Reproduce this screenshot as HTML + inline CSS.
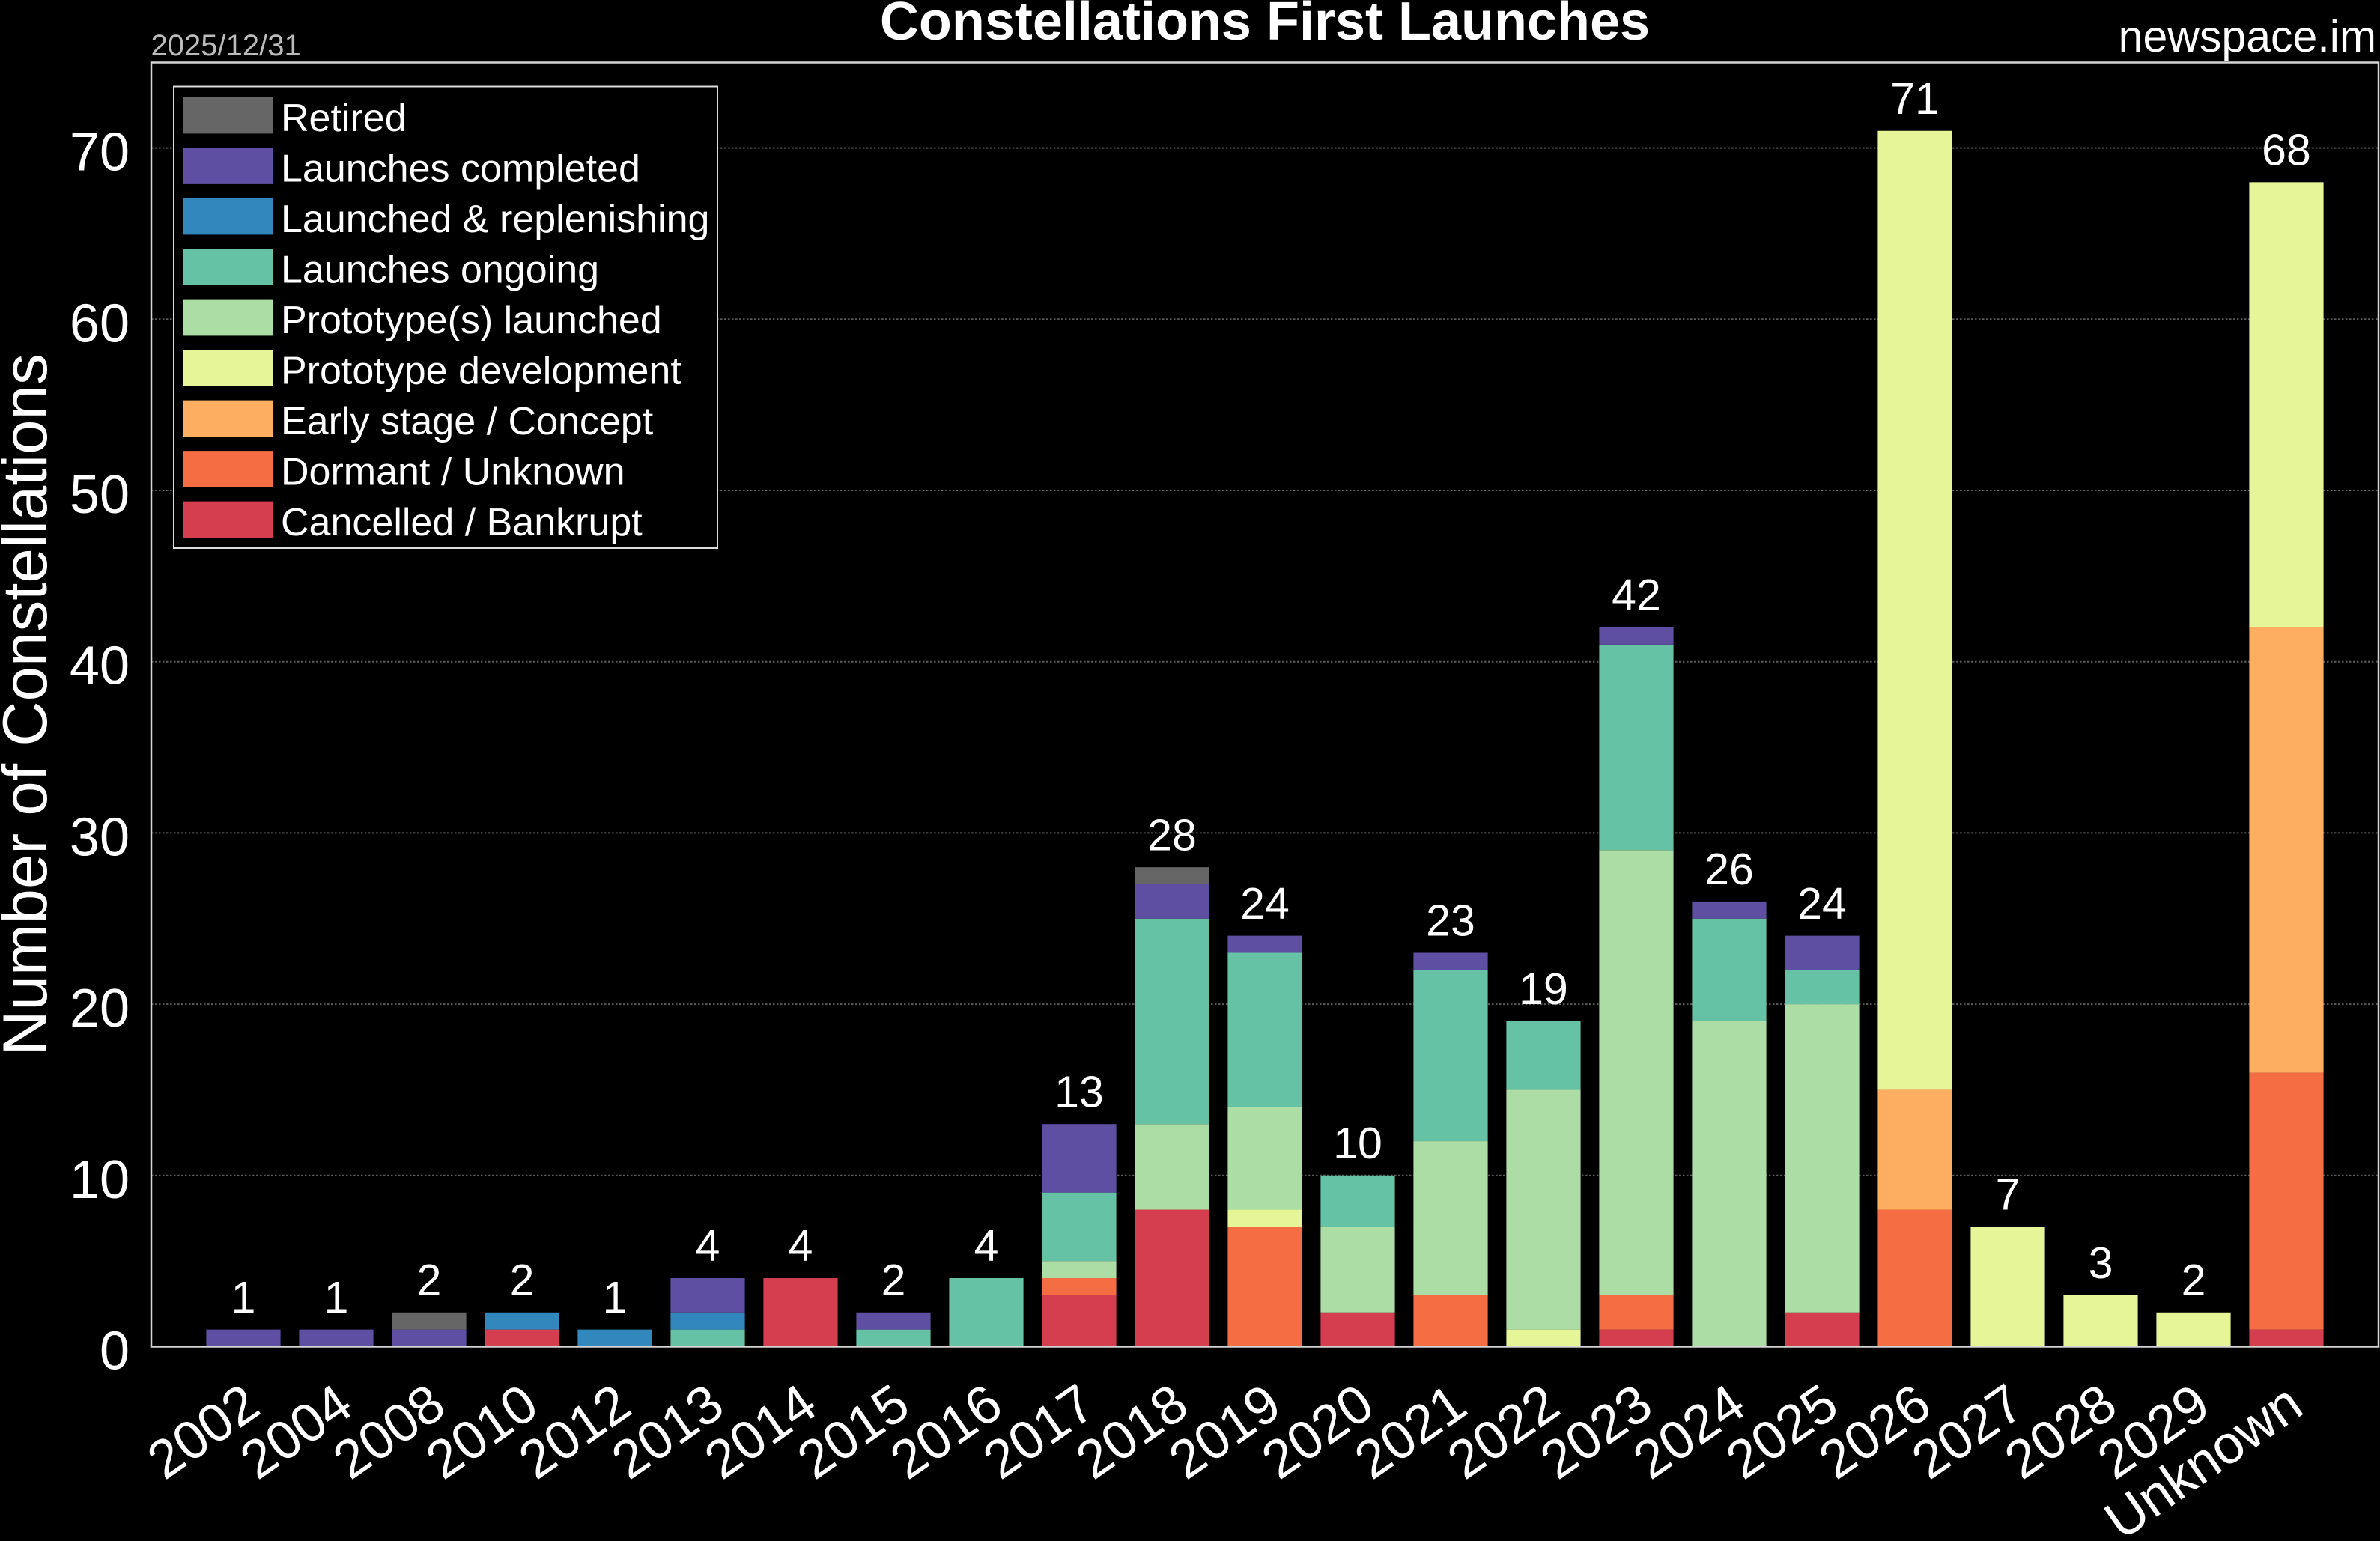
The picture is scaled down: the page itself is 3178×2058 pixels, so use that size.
<!DOCTYPE html>
<html>
<head>
<meta charset="utf-8">
<style>
  html, body { margin: 0; padding: 0; background: #000; }
  svg { display: block; }
  text { font-family: "Liberation Sans", Arial, sans-serif; fill: #fff; }
</style>
</head>
<body>
<svg width="3178" height="2058" viewBox="0 0 3178 2058" xmlns="http://www.w3.org/2000/svg">
  <rect x="0" y="0" width="3178" height="2058" fill="#000"/>

  <!-- header texts -->
  <text x="201.5" y="74" font-size="40" style="fill:#bbbbbb">2025/12/31</text>
  <text x="1689" y="53" font-size="72" font-weight="bold" text-anchor="middle">Constellations First Launches</text>
  <text x="3173" y="69" font-size="59" text-anchor="end">newspace.im</text>

  <!-- gridlines -->
  <g stroke="#5a5a5a" stroke-width="2" stroke-dasharray="2.5 2.5">
    <line x1="202" x2="3176" y1="1569.8" y2="1569.8"/>
    <line x1="202" x2="3176" y1="1341.1" y2="1341.1"/>
    <line x1="202" x2="3176" y1="1112.4" y2="1112.4"/>
    <line x1="202" x2="3176" y1="883.7" y2="883.7"/>
    <line x1="202" x2="3176" y1="655" y2="655"/>
    <line x1="202" x2="3176" y1="426.3" y2="426.3"/>
    <line x1="202" x2="3176" y1="197.6" y2="197.6"/>
  </g>

  <!-- bars (data coordinates) -->
  <g transform="translate(325,1798.5) scale(124,-22.87)">
    <rect x="-0.4" width="0.8" y="0" height="1" fill="#5e4fa2"/>
    <rect x="0.6" width="0.8" y="0" height="1" fill="#5e4fa2"/>
    <rect x="1.6" width="0.8" y="0" height="1" fill="#5e4fa2"/>
    <rect x="1.6" width="0.8" y="1" height="1" fill="#666666"/>
    <rect x="2.6" width="0.8" y="0" height="1" fill="#d53e4f"/>
    <rect x="2.6" width="0.8" y="1" height="1" fill="#3288bd"/>
    <rect x="3.6" width="0.8" y="0" height="1" fill="#3288bd"/>
    <rect x="4.6" width="0.8" y="0" height="1" fill="#66c2a5"/>
    <rect x="4.6" width="0.8" y="1" height="1" fill="#3288bd"/>
    <rect x="4.6" width="0.8" y="2" height="2" fill="#5e4fa2"/>
    <rect x="5.6" width="0.8" y="0" height="4" fill="#d53e4f"/>
    <rect x="6.6" width="0.8" y="0" height="1" fill="#66c2a5"/>
    <rect x="6.6" width="0.8" y="1" height="1" fill="#5e4fa2"/>
    <rect x="7.6" width="0.8" y="0" height="4" fill="#66c2a5"/>
    <rect x="8.6" width="0.8" y="0" height="3" fill="#d53e4f"/>
    <rect x="8.6" width="0.8" y="3" height="1" fill="#f46d43"/>
    <rect x="8.6" width="0.8" y="4" height="1" fill="#abdda4"/>
    <rect x="8.6" width="0.8" y="5" height="4" fill="#66c2a5"/>
    <rect x="8.6" width="0.8" y="9" height="4" fill="#5e4fa2"/>
    <rect x="9.6" width="0.8" y="0" height="8" fill="#d53e4f"/>
    <rect x="9.6" width="0.8" y="8" height="5" fill="#abdda4"/>
    <rect x="9.6" width="0.8" y="13" height="12" fill="#66c2a5"/>
    <rect x="9.6" width="0.8" y="25" height="2" fill="#5e4fa2"/>
    <rect x="9.6" width="0.8" y="27" height="1" fill="#666666"/>
    <rect x="10.6" width="0.8" y="0" height="7" fill="#f46d43"/>
    <rect x="10.6" width="0.8" y="7" height="1" fill="#e6f598"/>
    <rect x="10.6" width="0.8" y="8" height="6" fill="#abdda4"/>
    <rect x="10.6" width="0.8" y="14" height="9" fill="#66c2a5"/>
    <rect x="10.6" width="0.8" y="23" height="1" fill="#5e4fa2"/>
    <rect x="11.6" width="0.8" y="0" height="2" fill="#d53e4f"/>
    <rect x="11.6" width="0.8" y="2" height="5" fill="#abdda4"/>
    <rect x="11.6" width="0.8" y="7" height="3" fill="#66c2a5"/>
    <rect x="12.6" width="0.8" y="0" height="3" fill="#f46d43"/>
    <rect x="12.6" width="0.8" y="3" height="9" fill="#abdda4"/>
    <rect x="12.6" width="0.8" y="12" height="10" fill="#66c2a5"/>
    <rect x="12.6" width="0.8" y="22" height="1" fill="#5e4fa2"/>
    <rect x="13.6" width="0.8" y="0" height="1" fill="#e6f598"/>
    <rect x="13.6" width="0.8" y="1" height="14" fill="#abdda4"/>
    <rect x="13.6" width="0.8" y="15" height="4" fill="#66c2a5"/>
    <rect x="14.6" width="0.8" y="0" height="1" fill="#d53e4f"/>
    <rect x="14.6" width="0.8" y="1" height="2" fill="#f46d43"/>
    <rect x="14.6" width="0.8" y="3" height="26" fill="#abdda4"/>
    <rect x="14.6" width="0.8" y="29" height="12" fill="#66c2a5"/>
    <rect x="14.6" width="0.8" y="41" height="1" fill="#5e4fa2"/>
    <rect x="15.6" width="0.8" y="0" height="19" fill="#abdda4"/>
    <rect x="15.6" width="0.8" y="19" height="6" fill="#66c2a5"/>
    <rect x="15.6" width="0.8" y="25" height="1" fill="#5e4fa2"/>
    <rect x="16.6" width="0.8" y="0" height="2" fill="#d53e4f"/>
    <rect x="16.6" width="0.8" y="2" height="18" fill="#abdda4"/>
    <rect x="16.6" width="0.8" y="20" height="2" fill="#66c2a5"/>
    <rect x="16.6" width="0.8" y="22" height="2" fill="#5e4fa2"/>
    <rect x="17.6" width="0.8" y="0" height="8" fill="#f46d43"/>
    <rect x="17.6" width="0.8" y="8" height="7" fill="#fdae61"/>
    <rect x="17.6" width="0.8" y="15" height="56" fill="#e6f598"/>
    <rect x="18.6" width="0.8" y="0" height="7" fill="#e6f598"/>
    <rect x="19.6" width="0.8" y="0" height="3" fill="#e6f598"/>
    <rect x="20.6" width="0.8" y="0" height="2" fill="#e6f598"/>
    <rect x="21.6" width="0.8" y="0" height="1" fill="#d53e4f"/>
    <rect x="21.6" width="0.8" y="1" height="15" fill="#f46d43"/>
    <rect x="21.6" width="0.8" y="16" height="26" fill="#fdae61"/>
    <rect x="21.6" width="0.8" y="42" height="26" fill="#e6f598"/>
  </g>

  <!-- value labels -->
  <g font-size="59" text-anchor="middle">
    <text x="325" y="1752.8">1</text>
    <text x="449" y="1752.8">1</text>
    <text x="573" y="1730">2</text>
    <text x="697" y="1730">2</text>
    <text x="821" y="1752.8">1</text>
    <text x="945" y="1684.2">4</text>
    <text x="1069" y="1684.2">4</text>
    <text x="1193" y="1730">2</text>
    <text x="1317" y="1684.2">4</text>
    <text x="1441" y="1478.4">13</text>
    <text x="1565" y="1135.3">28</text>
    <text x="1689" y="1226.8">24</text>
    <text x="1813" y="1547">10</text>
    <text x="1937" y="1249.7">23</text>
    <text x="2061" y="1341.2">19</text>
    <text x="2185" y="815.2">42</text>
    <text x="2309" y="1181.1">26</text>
    <text x="2433" y="1226.8">24</text>
    <text x="2557" y="151.9">71</text>
    <text x="2681" y="1615.6">7</text>
    <text x="2805" y="1707.1">3</text>
    <text x="2929" y="1730">2</text>
    <text x="3053" y="220.5">68</text>
  </g>

  <!-- axes frame -->
  <rect x="202" y="83.5" width="2974" height="1715" fill="none" stroke="#d4d4d4" stroke-width="2.5"/>

  <!-- y tick labels -->
  <g font-size="72" text-anchor="end">
    <text x="173" y="1828.5">0</text>
    <text x="173" y="1599.8">10</text>
    <text x="173" y="1371.1">20</text>
    <text x="173" y="1142.4">30</text>
    <text x="173" y="913.7">40</text>
    <text x="173" y="685">50</text>
    <text x="173" y="456.3">60</text>
    <text x="173" y="227.6">70</text>
  </g>

  <!-- y axis label -->
  <text transform="translate(62,941) rotate(-90)" font-size="83.5" text-anchor="middle">Number of Constellations</text>

  <!-- x tick labels -->
  <g font-size="72" text-anchor="end">
    <text transform="translate(351,1886) rotate(-35)">2002</text>
    <text transform="translate(475,1886) rotate(-35)">2004</text>
    <text transform="translate(599,1886) rotate(-35)">2008</text>
    <text transform="translate(723,1886) rotate(-35)">2010</text>
    <text transform="translate(847,1886) rotate(-35)">2012</text>
    <text transform="translate(971,1886) rotate(-35)">2013</text>
    <text transform="translate(1095,1886) rotate(-35)">2014</text>
    <text transform="translate(1219,1886) rotate(-35)">2015</text>
    <text transform="translate(1343,1886) rotate(-35)">2016</text>
    <text transform="translate(1467,1886) rotate(-35)">2017</text>
    <text transform="translate(1591,1886) rotate(-35)">2018</text>
    <text transform="translate(1715,1886) rotate(-35)">2019</text>
    <text transform="translate(1839,1886) rotate(-35)">2020</text>
    <text transform="translate(1963,1886) rotate(-35)">2021</text>
    <text transform="translate(2087,1886) rotate(-35)">2022</text>
    <text transform="translate(2211,1886) rotate(-35)">2023</text>
    <text transform="translate(2335,1886) rotate(-35)">2024</text>
    <text transform="translate(2459,1886) rotate(-35)">2025</text>
    <text transform="translate(2583,1886) rotate(-35)">2026</text>
    <text transform="translate(2707,1886) rotate(-35)">2027</text>
    <text transform="translate(2831,1886) rotate(-35)">2028</text>
    <text transform="translate(2955,1886) rotate(-35)">2029</text>
    <text transform="translate(3079,1886) rotate(-35)">Unknown</text>
  </g>

  <!-- legend -->
  <rect x="232" y="115.5" width="726" height="616.5" fill="#000" stroke="#dcdcdc" stroke-width="2"/>
  <g>
    <rect x="244" y="129.6" width="120" height="48.8" fill="#666666"/>
    <rect x="244" y="197.1" width="120" height="48.8" fill="#5e4fa2"/>
    <rect x="244" y="264.6" width="120" height="48.8" fill="#3288bd"/>
    <rect x="244" y="332.1" width="120" height="48.8" fill="#66c2a5"/>
    <rect x="244" y="399.6" width="120" height="48.8" fill="#abdda4"/>
    <rect x="244" y="467.1" width="120" height="48.8" fill="#e6f598"/>
    <rect x="244" y="534.6" width="120" height="48.8" fill="#fdae61"/>
    <rect x="244" y="602.1" width="120" height="48.8" fill="#f46d43"/>
    <rect x="244" y="669.6" width="120" height="48.8" fill="#d53e4f"/>
  </g>
  <g font-size="52">
    <text x="375" y="175">Retired</text>
    <text x="375" y="242.5">Launches completed</text>
    <text x="375" y="310">Launched &amp; replenishing</text>
    <text x="375" y="377.5">Launches ongoing</text>
    <text x="375" y="445">Prototype(s) launched</text>
    <text x="375" y="512.5">Prototype development</text>
    <text x="375" y="580">Early stage / Concept</text>
    <text x="375" y="647.5">Dormant / Unknown</text>
    <text x="375" y="715">Cancelled / Bankrupt</text>
  </g>
</svg>
</body>
</html>
